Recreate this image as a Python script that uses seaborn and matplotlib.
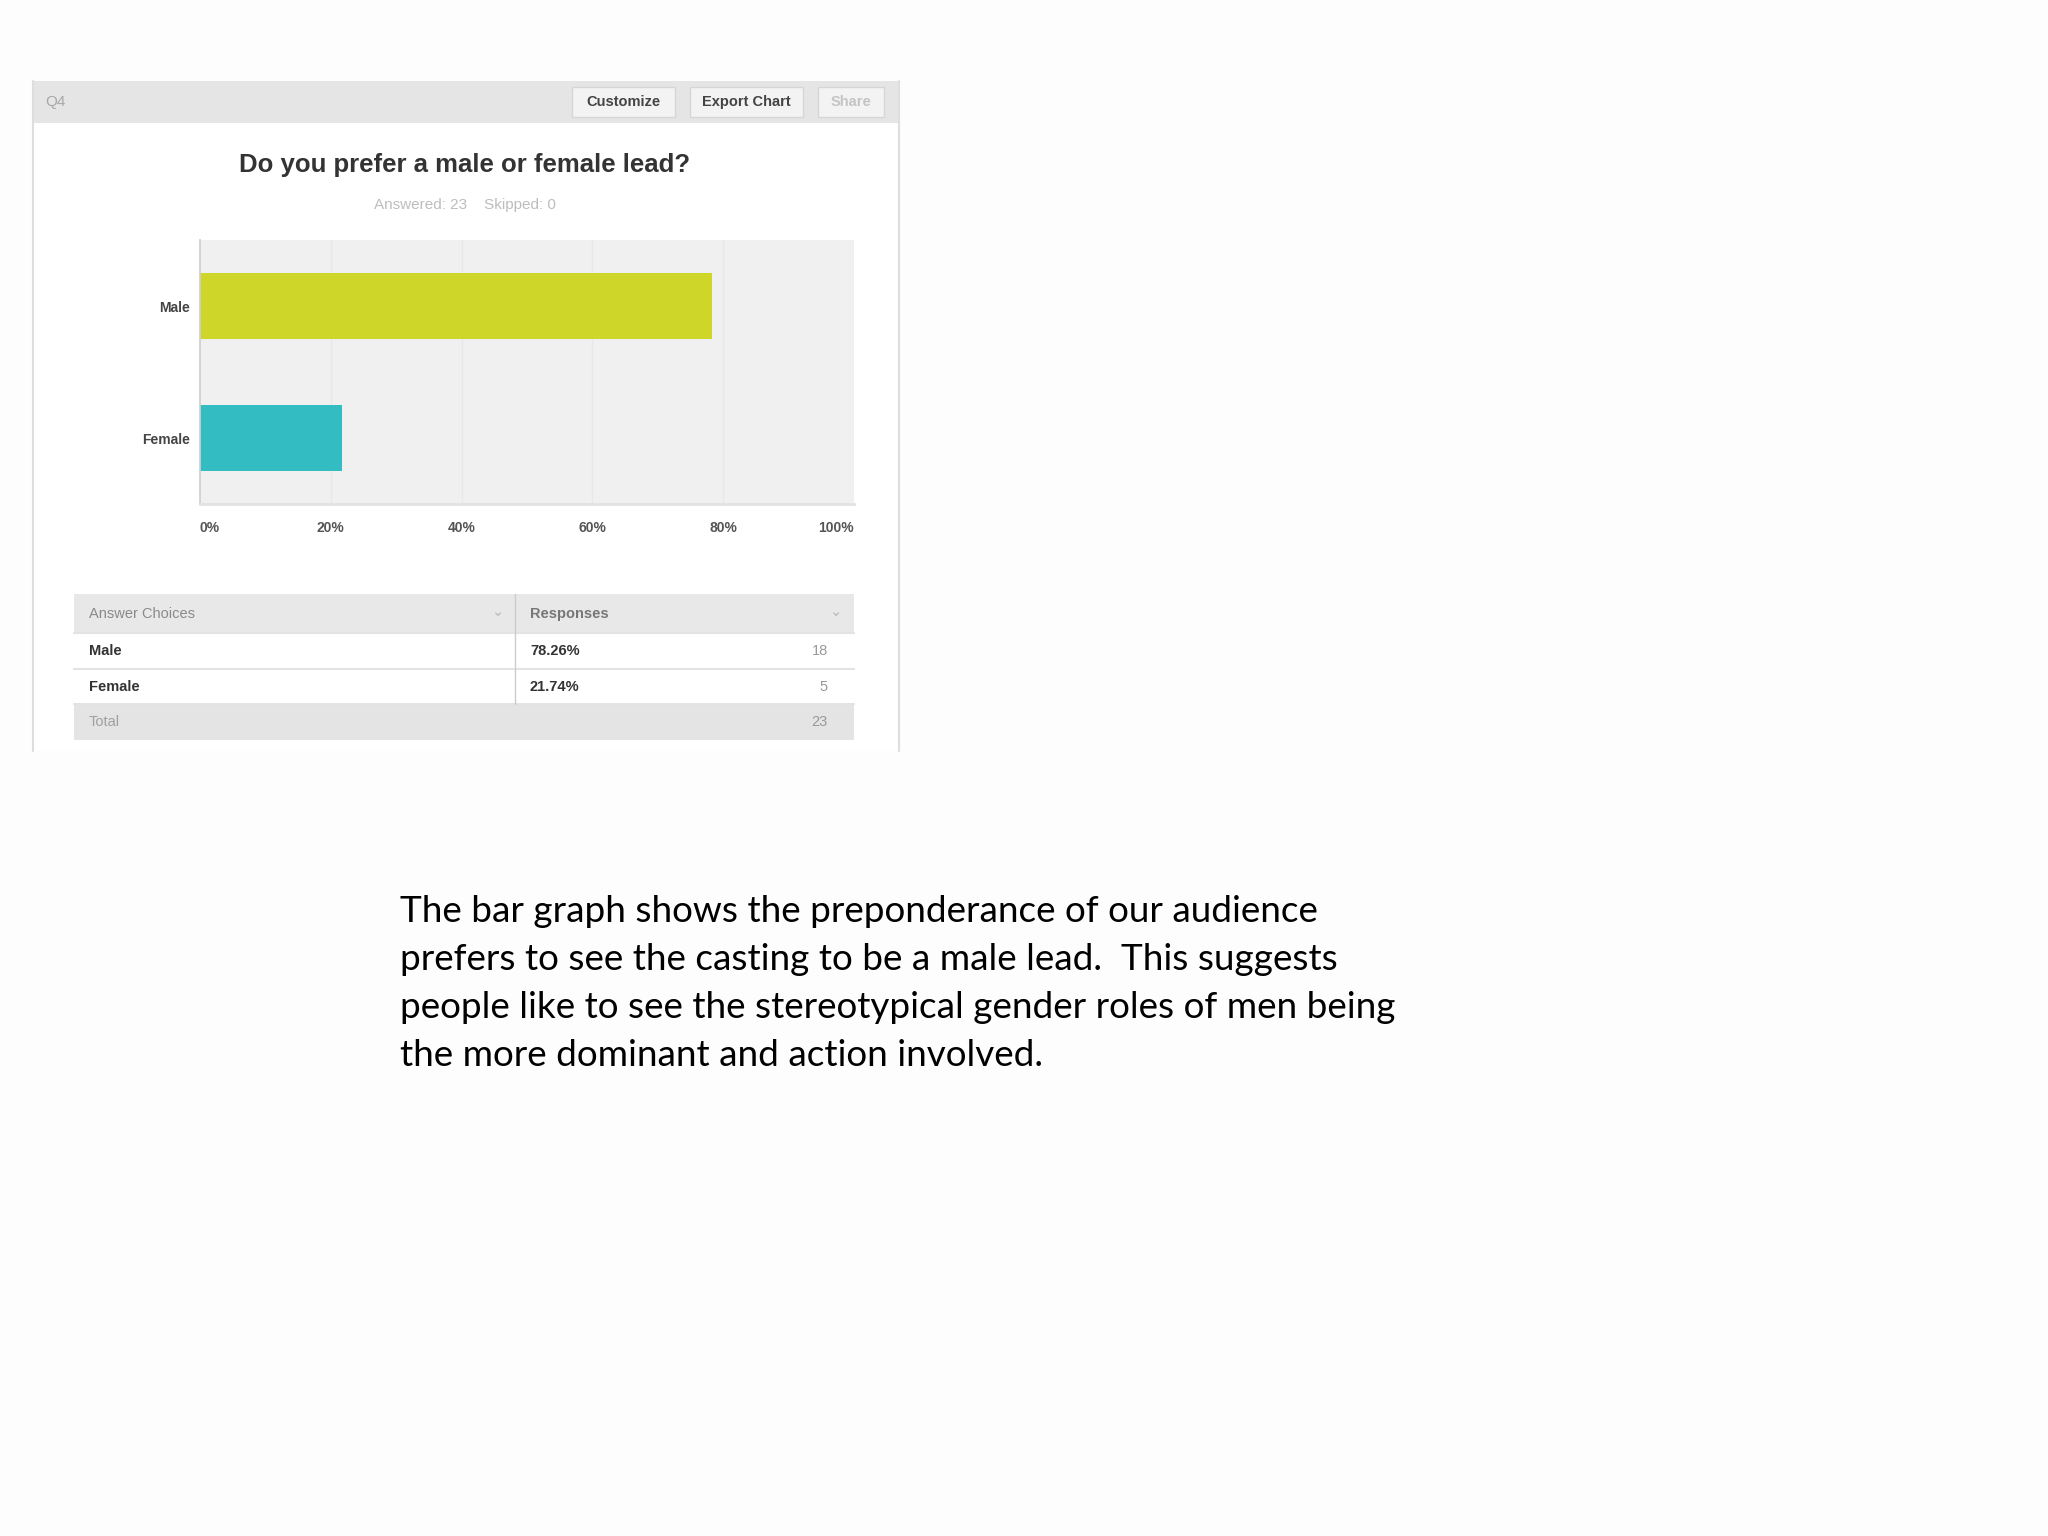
import matplotlib.pyplot as plt
import seaborn as sns
from matplotlib.patches import Rectangle

# survey data
choices = ["Male", "Female"]
percentages = [78.26, 21.74]
counts = [18, 5]
bar_colors = ["#cfd62a", "#33bdc2"]
x_ticks = [0, 20, 40, 60, 80, 100]
x_tick_labels = ["0%", "20%", "40%", "60%", "80%", "100%"]
skipped = 0

question = "Do you prefer a male or female lead?"
caption_lines = [
    "The bar graph shows the preponderance of our audience",
    "prefers to see the casting to be a male lead.  This suggests",
    "people like to see the stereotypical gender roles of men being",
    "the more dominant and action involved.",
]

W, H = 2048, 1536


def fx(x):
    return x / W


def fy(y):
    return 1 - y / H


def box(fig, x0, y0, x1, y1, **kw):
    # rectangle in pixel coords, top-left origin
    fig.patches.append(Rectangle((fx(x0), fy(y1)), fx(x1) - fx(x0), fy(y0) - fy(y1),
                                 transform=fig.transFigure, **kw))


sns.set_theme(style="white")
plt.rcParams["font.family"] = ["Liberation Sans", "DejaVu Sans"]

fig = plt.figure(figsize=(20.48, 15.36), dpi=100)
fig.patch.set_facecolor("#fdfdfd")

# screenshot panel
box(fig, 33, 81, 899, 751, facecolor="white", edgecolor="none", zorder=-2)
fig.add_artist(plt.Line2D([fx(33), fx(33)], [fy(81), fy(751)], color="#dedede", lw=1.5,
                          transform=fig.transFigure))
fig.add_artist(plt.Line2D([fx(899), fx(899)], [fy(81), fy(751)], color="#dedede", lw=1.5,
                          transform=fig.transFigure))
box(fig, 33, 81, 899, 123, facecolor="#e5e5e5", edgecolor="none")
fig.text(fx(45), fy(102), "Q4", fontsize=11, color="#a8a8a8", va="center")

buttons = [("Customize", 572, 675, "#444444"), ("Export Chart", 690, 803, "#444444"),
           ("Share", 818, 884, "#c4c4c4")]
for label, bx0, bx1, tc in buttons:
    box(fig, bx0, 87, bx1, 117, facecolor="#f3f3f3", edgecolor="#d6d6d6", lw=1)
    fig.text(fx((bx0 + bx1) / 2), fy(102), label, fontsize=10.5, color=tc, weight="bold",
             ha="center", va="center")

fig.text(fx(465), fy(165), question, fontsize=18.5, weight="bold", color="#333333",
         ha="center", va="center")
fig.text(fx(465), fy(205), f"Answered: {sum(counts)}    Skipped: {skipped}", fontsize=11,
         color="#bdbdbd", ha="center", va="center")

# bar chart
ax = fig.add_axes([fx(200), fy(504), fx(854) - fx(200), fy(240) - fy(504)])
ax.set_zorder(3)
sns.barplot(x=percentages, y=choices, hue=choices, palette=bar_colors, legend=False,
            width=0.5, orient="h", saturation=1, linewidth=0, ax=ax)
ax.set_facecolor("#f0f0f0")
ax.set_xlim(0, 100)
ax.set_ylim(1.5, -0.5)
ax.set_xticks(x_ticks)
ax.set_xticklabels(x_tick_labels, fontsize=10, color="#555555", weight="bold")
for i, t in enumerate(ax.get_xticklabels()):
    if i == 0:
        t.set_ha("left")
    elif i == len(x_ticks) - 1:
        t.set_ha("right")
ax.tick_params(axis="x", length=0, pad=12)
ax.tick_params(axis="y", length=0, pad=7)
for t in ax.get_yticklabels():
    t.set_fontsize(10)
    t.set_weight("bold")
    t.set_color("#444444")
ax.set_xlabel("")
ax.set_ylabel("")
for xv in x_ticks[1:-1]:
    ax.axvline(xv, color="#e8e8e8", lw=1, zorder=0)
ax.set_axisbelow(True)
for side in ["top", "right"]:
    ax.spines[side].set_visible(False)
ax.spines["left"].set_color("#cfcfcf")
ax.spines["bottom"].set_color("#e2e2e2")
ax.spines["bottom"].set_linewidth(2)

# response table
tx0, tx1, tdiv = 74, 854, 515
rows_y = [594, 633, 669, 704, 740]
box(fig, tx0, rows_y[0], tx1, rows_y[1], facecolor="#e8e8e8", edgecolor="none")
box(fig, tx0, rows_y[3], tx1, rows_y[4], facecolor="#e4e4e4", edgecolor="none")
for yy in rows_y[1:4]:
    fig.add_artist(plt.Line2D([fx(tx0), fx(tx1)], [fy(yy), fy(yy)], color="#e3e3e3", lw=1.5,
                              transform=fig.transFigure))
fig.add_artist(plt.Line2D([fx(tdiv), fx(tdiv)], [fy(rows_y[0]), fy(rows_y[3])], color="#cccccc",
                          lw=1, transform=fig.transFigure))

cell_kw = dict(fontsize=10.5, va="center")
fig.text(fx(89), fy(614), "Answer Choices", color="#8a8a8a", **cell_kw)
fig.text(fx(530), fy(614), "Responses", color="#777777", weight="bold", **cell_kw)
fig.text(fx(498), fy(612), "⌄", color="#bbbbbb", ha="center", **cell_kw)
fig.text(fx(836), fy(612), "⌄", color="#bbbbbb", ha="center", **cell_kw)
for i, (c, p, n) in enumerate(zip(choices, percentages, counts)):
    ym = (rows_y[i + 1] + rows_y[i + 2]) / 2
    fig.text(fx(89), fy(ym), c, color="#333333", weight="bold", **cell_kw)
    fig.text(fx(530), fy(ym), f"{p:.2f}%", color="#333333", weight="bold", **cell_kw)
    fig.text(fx(828), fy(ym), str(n), color="#999999", ha="right", **cell_kw)
fig.text(fx(89), fy(722), "Total", color="#a0a0a0", **cell_kw)
fig.text(fx(828), fy(722), str(sum(counts)), color="#999999", ha="right", **cell_kw)

# caption
for i, line in enumerate(caption_lines):
    fig.text(fx(400), fy(912 + i * 48), line, fontsize=26.6, color="black", family="Lato",
             va="center", ha="left")

fig.savefig("out.png", dpi=100, facecolor=fig.get_facecolor())
